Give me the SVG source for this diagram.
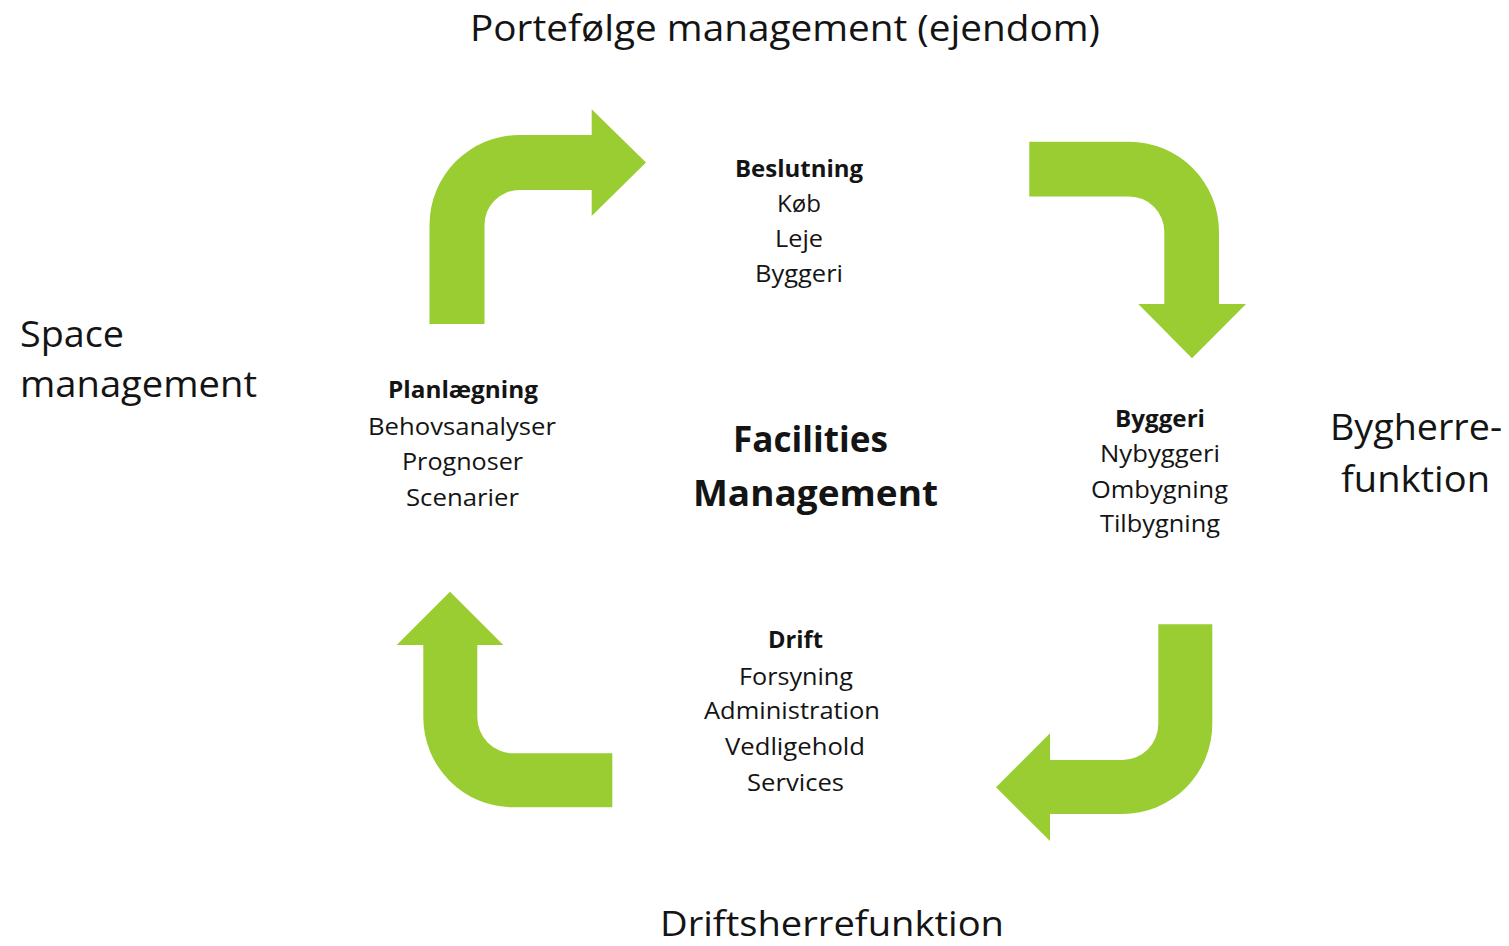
<svg xmlns="http://www.w3.org/2000/svg" width="1509" height="946" viewBox="0 0 1509 946">
<style>
  .t { font-family: "Open Sans", "Liberation Sans", sans-serif; fill: #141414; }
  .big { font-size: 36px; }
  .side { font-size: 37px; }
  .sm { font-size: 24px; }
  .b { font-weight: bold; }
  .fm { font-size: 35px; font-weight: bold; }
  .arrow { fill: #9ACD32; }
</style>
<rect width="1509" height="946" fill="#ffffff"/>

<g id="connectors">
  <path class="arrow" d="M 429.5 324 L 429.5 225 A 90 90 0 0 1 519.5 135 L 591.7 135 L 591.7 109.3 L 646 162.5 L 591.7 216 L 591.7 190 L 519.5 190 A 35 35 0 0 0 484.5 225 L 484.5 324 Z"/>
  <path class="arrow" d="M 1029.3 141.7 L 1129 141.7 A 90 90 0 0 1 1219 231.7 L 1219 304 L 1246 304 L 1192 358.3 L 1138.3 304 L 1164.3 304 L 1164.3 231.7 A 35.3 35.3 0 0 0 1129 196.4 L 1029.3 196.4 Z"/>
  <path class="arrow" d="M 1158.3 624.3 L 1212.3 624.3 L 1212.3 724 A 90 90 0 0 1 1122.3 814 L 1050 814 L 1050 841 L 996 787.3 L 1050 733.3 L 1050 760 L 1122.3 760 A 36 36 0 0 0 1158.3 724 Z"/>
  <path class="arrow" d="M 612.3 807.3 L 513.3 807.3 A 90 90 0 0 1 423.3 717.3 L 423.3 645 L 396.7 645 L 450 591.7 L 503.3 645 L 477.3 645 L 477.3 717.3 A 36 36 0 0 0 513.3 753.3 L 612.3 753.3 Z"/>
</g>

<g id="title-top">
  <text class="t big" x="470" y="41" textLength="630" lengthAdjust="spacingAndGlyphs">Portefølge management (ejendom)</text>
</g>
<g id="space-management">
  <text class="t side" x="20" y="347" textLength="104" lengthAdjust="spacingAndGlyphs">Space</text>
  <text class="t side" x="20" y="397" textLength="237" lengthAdjust="spacingAndGlyphs">management</text>
</g>
<g id="bygherre">
  <text class="t side" x="1330" y="440" textLength="172" lengthAdjust="spacingAndGlyphs">Bygherre-</text>
  <text class="t side" x="1341" y="492" textLength="149" lengthAdjust="spacingAndGlyphs">funktion</text>
</g>
<g id="driftsherre">
  <text class="t" style="font-size:35px" x="660" y="936" textLength="344" lengthAdjust="spacingAndGlyphs">Driftsherrefunktion</text>
</g>

<g id="center">
  <text class="t fm" x="733" y="452" textLength="155" lengthAdjust="spacingAndGlyphs">Facilities</text>
  <text class="t fm" x="693" y="506" textLength="245" lengthAdjust="spacingAndGlyphs">Management</text>
</g>

<g id="beslutning">
  <text class="t sm b" x="735" y="177" textLength="128" lengthAdjust="spacingAndGlyphs">Beslutning</text>
  <text class="t sm" x="777" y="212" textLength="44" lengthAdjust="spacingAndGlyphs">Køb</text>
  <text class="t sm" x="775" y="247" textLength="48" lengthAdjust="spacingAndGlyphs">Leje</text>
  <text class="t sm" x="755" y="282" textLength="88" lengthAdjust="spacingAndGlyphs">Byggeri</text>
</g>

<g id="planlaegning">
  <text class="t sm b" x="388" y="398" textLength="150" lengthAdjust="spacingAndGlyphs">Planlægning</text>
  <text class="t sm" x="368" y="435" textLength="188" lengthAdjust="spacingAndGlyphs">Behovsanalyser</text>
  <text class="t sm" x="402" y="470" textLength="121" lengthAdjust="spacingAndGlyphs">Prognoser</text>
  <text class="t sm" x="406" y="506" textLength="113" lengthAdjust="spacingAndGlyphs">Scenarier</text>
</g>

<g id="byggeri">
  <text class="t sm b" x="1115" y="427" textLength="90" lengthAdjust="spacingAndGlyphs">Byggeri</text>
  <text class="t sm" x="1100" y="462" textLength="120" lengthAdjust="spacingAndGlyphs">Nybyggeri</text>
  <text class="t sm" x="1091" y="498" textLength="137" lengthAdjust="spacingAndGlyphs">Ombygning</text>
  <text class="t sm" x="1100" y="532" textLength="120" lengthAdjust="spacingAndGlyphs">Tilbygning</text>
</g>

<g id="drift">
  <text class="t sm b" x="768" y="648" textLength="55" lengthAdjust="spacingAndGlyphs">Drift</text>
  <text class="t sm" x="739" y="685" textLength="114" lengthAdjust="spacingAndGlyphs">Forsyning</text>
  <text class="t sm" x="704" y="719" textLength="176" lengthAdjust="spacingAndGlyphs">Administration</text>
  <text class="t sm" x="725" y="755" textLength="140" lengthAdjust="spacingAndGlyphs">Vedligehold</text>
  <text class="t sm" x="747" y="791" textLength="97" lengthAdjust="spacingAndGlyphs">Services</text>
</g>
</svg>
